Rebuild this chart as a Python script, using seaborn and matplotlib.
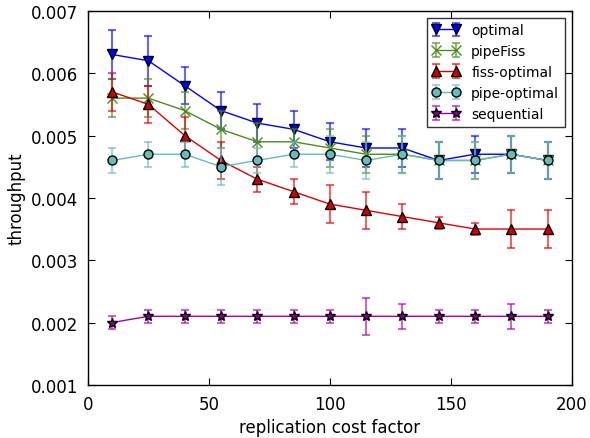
import numpy as np
import pandas as pd
import matplotlib
matplotlib.use("Agg")
import matplotlib.pyplot as plt
import seaborn as sns
from matplotlib.legend_handler import HandlerTuple

x = [10, 25, 40, 55, 70, 85, 100, 115, 130, 145, 160, 175, 190]

optimal = [6.3, 6.2, 5.8, 5.4, 5.2, 5.1, 4.9, 4.8, 4.8, 4.6, 4.7, 4.7, 4.6]
optimal_err = [0.4, 0.4, 0.3, 0.3, 0.3, 0.3, 0.3, 0.3, 0.3, 0.3, 0.3, 0.3, 0.3]

pipefiss = [5.6, 5.6, 5.4, 5.1, 4.9, 4.9, 4.8, 4.7, 4.7, 4.6, 4.6, 4.7, 4.6]
pipefiss_err = [0.3, 0.3, 0.3, 0.3, 0.3, 0.2, 0.3, 0.3, 0.3, 0.3, 0.3, 0.3, 0.3]

fiss = [5.7, 5.5, 5.0, 4.6, 4.3, 4.1, 3.9, 3.8, 3.7, 3.6, 3.5, 3.5, 3.5]
fiss_err = [0.3, 0.3, 0.3, 0.3, 0.2, 0.2, 0.3, 0.3, 0.2, 0.1, 0.1, 0.3, 0.3]

pipeopt = [4.6, 4.7, 4.7, 4.5, 4.6, 4.7, 4.7, 4.6, 4.7, 4.6, 4.6, 4.7, 4.6]
pipeopt_err = [0.2, 0.2, 0.2, 0.3, 0.2, 0.2, 0.3, 0.3, 0.3, 0.3, 0.3, 0.3, 0.3]

sequential = [2.0, 2.1, 2.1, 2.1, 2.1, 2.1, 2.1, 2.1, 2.1, 2.1, 2.1, 2.1, 2.1]
sequential_err = [0.1, 0.1, 0.1, 0.1, 0.1, 0.1, 0.1, 0.3, 0.2, 0.1, 0.1, 0.2, 0.1]

labels = ["optimal", "pipeFiss", "fiss-optimal", "pipe-optimal", "sequential"]
series = [optimal, pipefiss, fiss, pipeopt, sequential]
errors = [optimal_err, pipefiss_err, fiss_err, pipeopt_err, sequential_err]
colors = ["#0000ff", "#4e8a1e", "#e00000", "#66bbbb", "#aa00aa"]
facecolors = ["#0000ff", "#4e8a1e", "#d00000", "#66bbbb", "#880088"]
markers = ["v", "x", "^", "o", "*"]
msizes = [7, 7, 7, 6.5, 7]

sns.set_style("white")
plt.rcParams.update({
    "font.family": ["DejaVu Sans"],
    "text.color": "black",
    "axes.labelcolor": "black",
    "xtick.color": "black",
    "ytick.color": "black",
    "xtick.direction": "in",
    "ytick.direction": "in",
    "xtick.top": True,
    "ytick.right": True,
    "xtick.major.size": 5,
    "ytick.major.size": 5,
    "xtick.bottom": True,
    "ytick.left": True,
    "axes.edgecolor": "black",
    "axes.linewidth": 1.0,
})

fig = plt.figure(figsize=(5.9, 4.39), dpi=100)
ax = fig.add_axes([0.149, 0.121, 0.820, 0.852])

handles = []
for i, (lab, ys, es) in enumerate(zip(labels, series, errors)):
    yv = np.array(ys) * 1e-3
    ev = np.array(es) * 1e-3
    df = pd.DataFrame({"x": x, "y": yv})
    cont = ax.errorbar(x, yv, yerr=ev, fmt="none", ecolor=colors[i], alpha=0.6,
                       capsize=3, elinewidth=1.5, capthick=1.5, zorder=2 + i * 0.1)
    sns.lineplot(data=df, x="x", y="y", ax=ax, color=colors[i], marker=markers[i],
                 markersize=msizes[i], markerfacecolor=facecolors[i],
                 markeredgecolor=("black" if markers[i] != "x" else colors[i]),
                 markeredgewidth=1.0, linewidth=1.0, legend=False,
                 zorder=2.05 + i * 0.1)
    line = ax.lines[-1]
    handles.append((cont, line))

ax.set_xlim(0, 200)
ax.set_ylim(0.001, 0.007)
ax.set_xticks([0, 50, 100, 150, 200])
ax.set_yticks([0.001, 0.002, 0.003, 0.004, 0.005, 0.006, 0.007])
ax.set_yticklabels(["0.001", "0.002", "0.003", "0.004", "0.005", "0.006", "0.007"])
ax.tick_params(labelsize=12, pad=7)
ax.set_xlabel("replication cost factor", fontsize=12)
ax.set_ylabel("throughput", fontsize=12)

leg = ax.legend(handles, labels, loc="upper right", numpoints=2,
                handler_map={tuple: HandlerTuple(ndivide=1)},
                fontsize=10, fancybox=False, frameon=True, borderaxespad=0.5,
                handlelength=2.0, handletextpad=0.8, labelspacing=0.5)
leg.get_frame().set_edgecolor("black")
leg.get_frame().set_linewidth(1.0)

fig.savefig("out.png", dpi=100)
